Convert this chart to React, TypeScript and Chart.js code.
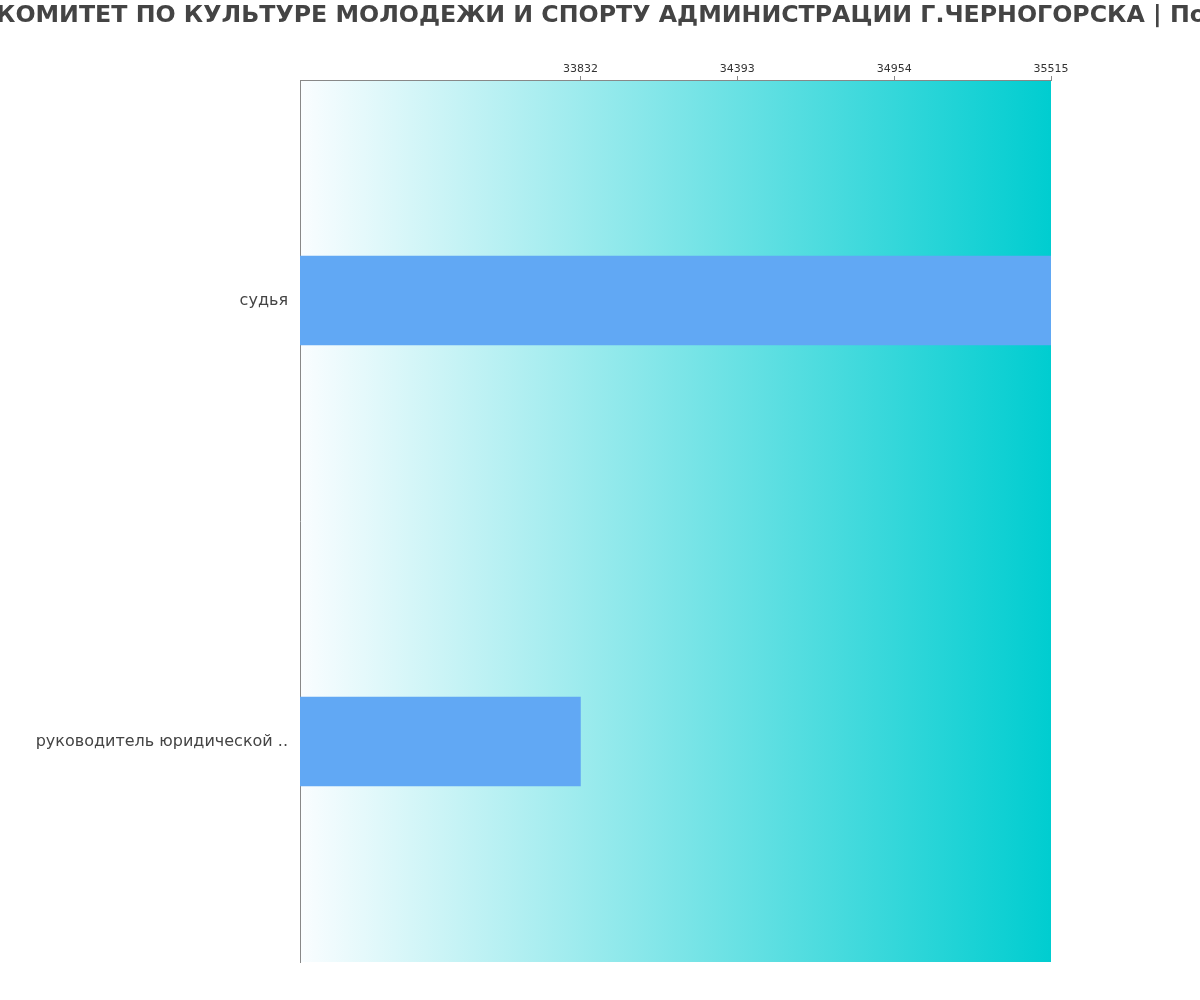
import React, { useEffect, useRef } from "react";
import { Chart, registerables } from "chart.js";

Chart.register(...registerables);

const titleText = "КОМИТЕТ ПО КУЛЬТУРЕ МОЛОДЕЖИ И СПОРТУ АДМИНИСТРАЦИИ Г.ЧЕРНОГОРСКА | По";
const categories = ["судья", "руководитель юридической .."];
const salaries = [35515, 33832];
const tickValues = [33832, 34393, 34954, 35515];
const axisMin = 32829;
const axisMax = 35515;

const gradientPlugin = {
  id: "areaGradient",
  beforeDraw(chart: any) {
    const { ctx, chartArea } = chart;
    if (!chartArea) return;
    const g = ctx.createLinearGradient(chartArea.left, 0, chartArea.right, 0);
    g.addColorStop(0, "#fafdff");
    g.addColorStop(1, "#00cdd0");
    ctx.save();
    ctx.fillStyle = g;
    ctx.fillRect(chartArea.left, chartArea.top, chartArea.right - chartArea.left, chartArea.bottom - chartArea.top);
    ctx.restore();
  },
};

const titlePlugin = {
  id: "wideTitle",
  afterDraw(chart: any) {
    const { ctx, width } = chart;
    ctx.save();
    ctx.font = "bold 23.7px 'DejaVu Sans'";
    ctx.fillStyle = "#444444";
    ctx.textAlign = "center";
    ctx.textBaseline = "middle";
    ctx.fillText(titleText, width / 2 + 1, 16);
    ctx.restore();
  },
};

export default function App() {
  const ref = useRef<HTMLCanvasElement | null>(null);
  useEffect(() => {
    document.body.style.margin = "0";
    const canvas = ref.current;
    if (!canvas) return;
    const chart = new Chart(canvas, {
      type: "bar",
      data: {
        labels: categories,
        datasets: [
          {
            data: salaries,
            backgroundColor: "#61a8f4",
            borderWidth: 0,
            barThickness: 89,
          },
        ],
      },
      plugins: [gradientPlugin, titlePlugin],
      options: {
        indexAxis: "y",
        animation: false,
        responsive: false,
        devicePixelRatio: 1,
        layout: { padding: { left: 0, right: 149, top: 38.8, bottom: 38 } },
        plugins: {
          legend: { display: false },
          tooltip: { enabled: false },
          title: { display: false },
        },
        scales: {
          x: {
            position: "top",
            min: axisMin,
            max: axisMax,
            afterBuildTicks(scale: any) {
              scale.ticks = tickValues.map((v) => ({ value: v }));
            },
            afterFit(scale: any) {
              scale.height = 41.2;
            },
            grid: { drawOnChartArea: false, drawTicks: true, tickLength: 4, color: "#888888" },
            border: { display: true, color: "#888888" },
            ticks: {
              color: "#333333",
              font: { family: "DejaVu Sans", size: 11 },
              padding: 0,
              maxRotation: 0,
              autoSkip: false,
              callback: (v: any) => String(v),
            },
          },
          y: {
            afterFit(scale: any) {
              scale.width = 300;
            },
            grid: { display: false },
            border: { display: true, color: "#888888" },
            ticks: {
              color: "#444444",
              font: { family: "DejaVu Sans", size: 16 },
              padding: 4,
            },
          },
        },
      },
    });
    return () => chart.destroy();
  }, []);
  return <canvas ref={ref} width={1200} height={1000} style={{ display: "block" }} />;
}
